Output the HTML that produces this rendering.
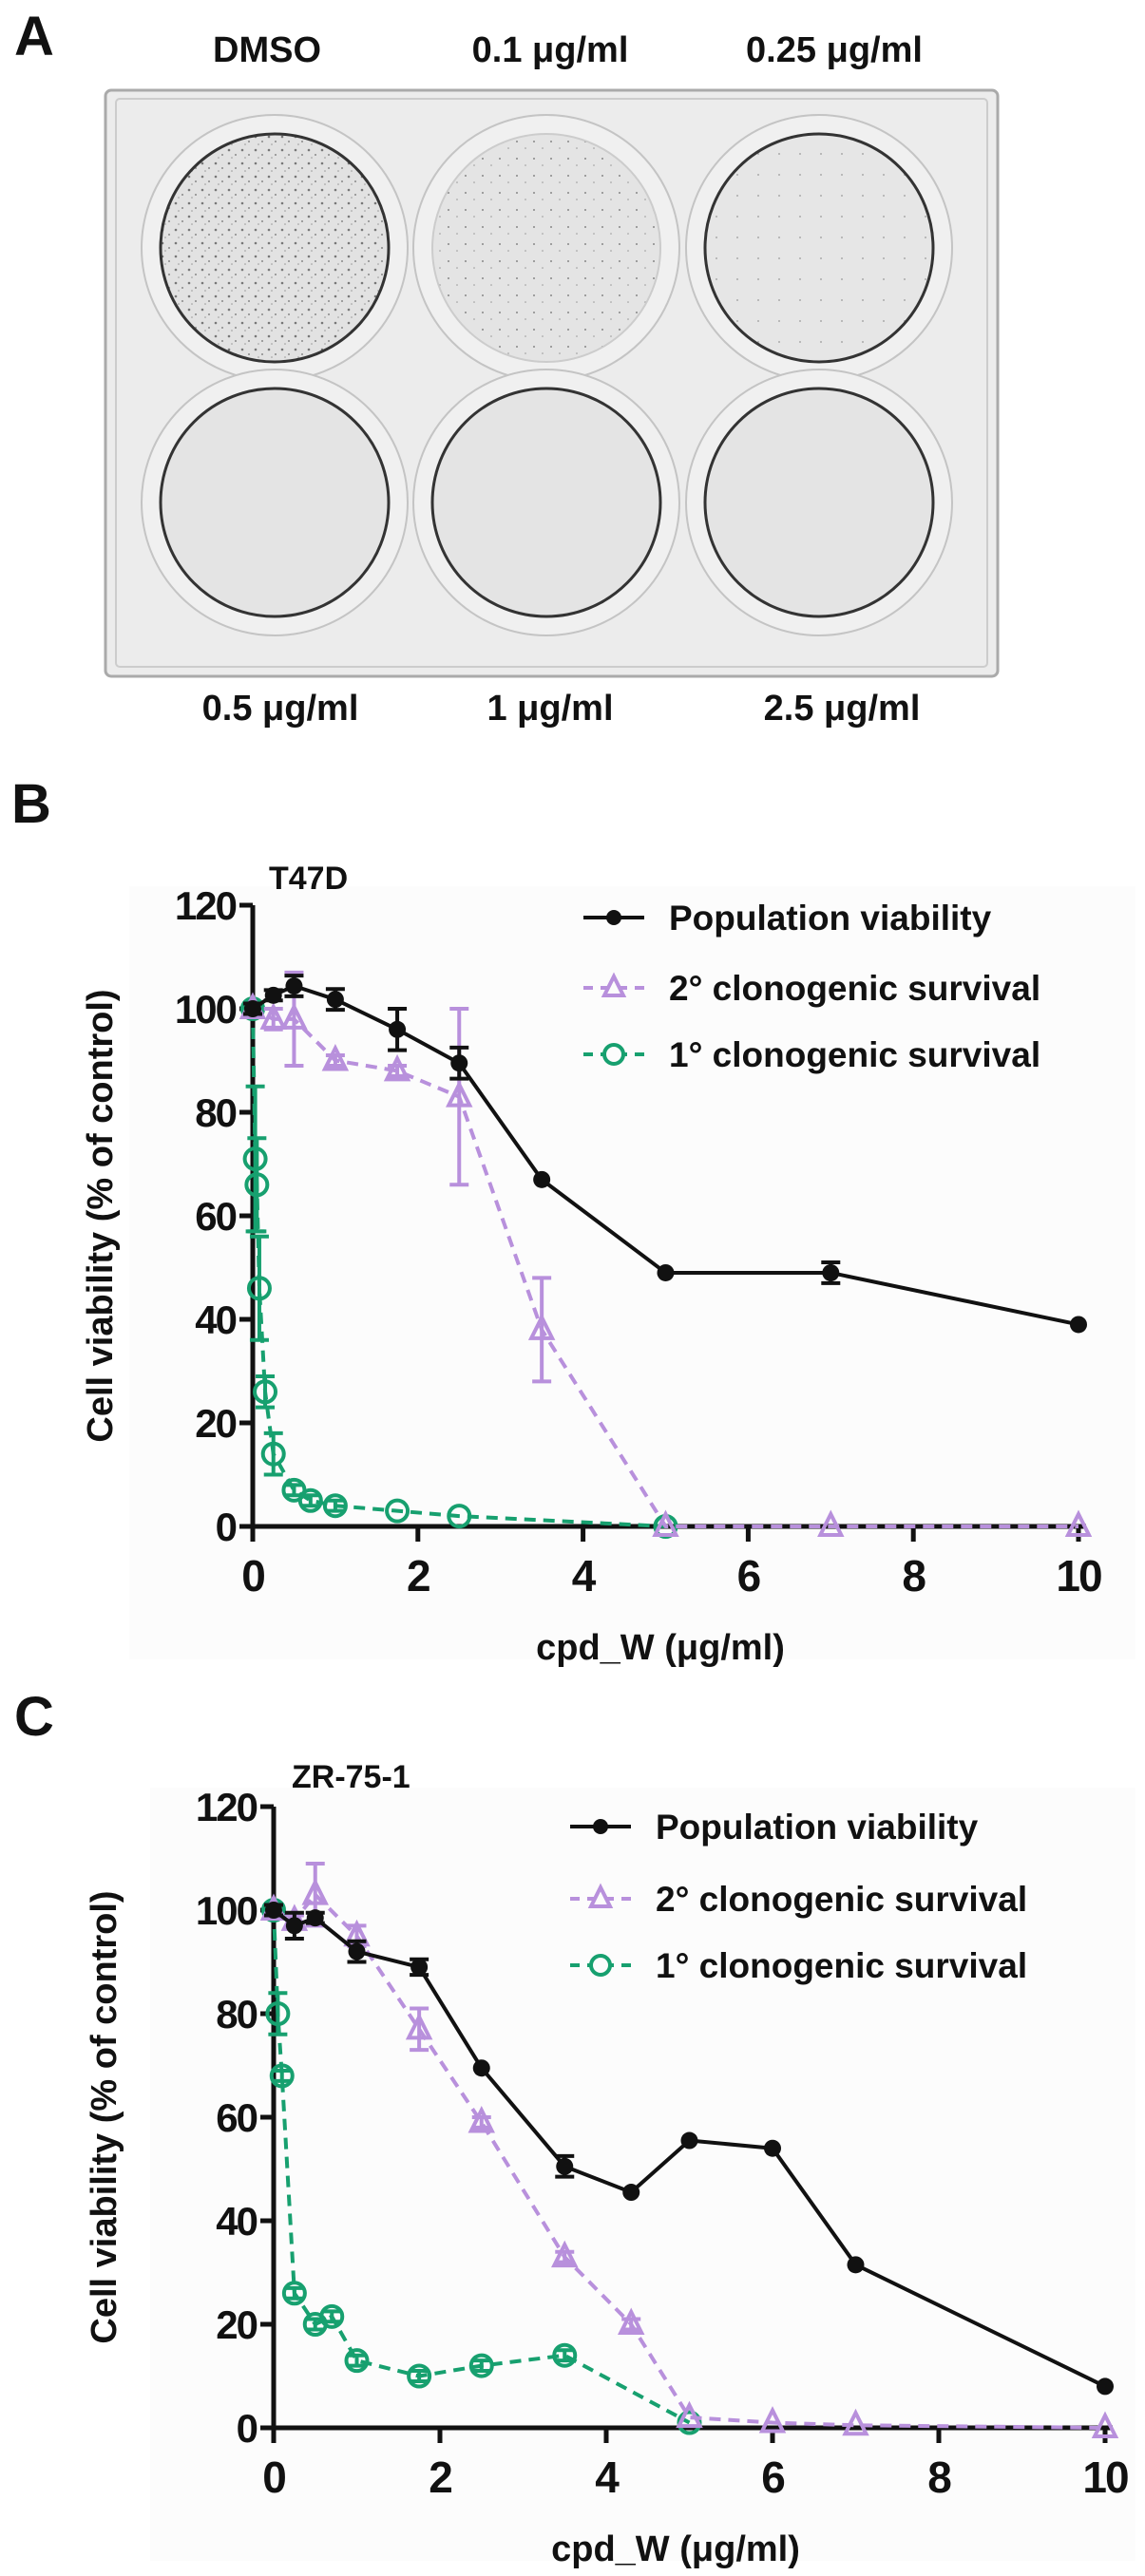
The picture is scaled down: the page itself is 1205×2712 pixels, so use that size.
<!DOCTYPE html>
<html><head><meta charset="utf-8"><style>
html,body{margin:0;padding:0;background:#fff}
svg{display:block}
text{font-family:"Liberation Sans",sans-serif;font-weight:bold;fill:#111}
</style></head><body>
<svg id="root" width="1205" height="2712" viewBox="0 0 1205 2712" xmlns="http://www.w3.org/2000/svg">
<defs>
<pattern id="dots1" width="14" height="14" patternUnits="userSpaceOnUse"><rect width="14" height="14" fill="#e2e2e2"/><circle cx="3" cy="4" r="1.3" fill="#777"/><circle cx="10" cy="9" r="1" fill="#888"/><circle cx="6" cy="12" r="0.8" fill="#999"/></pattern>
<pattern id="dots2" width="18" height="18" patternUnits="userSpaceOnUse"><rect width="18" height="18" fill="#e4e4e4"/><circle cx="4" cy="5" r="1" fill="#888"/><circle cx="13" cy="12" r="0.8" fill="#999"/></pattern>
<pattern id="dots3" width="22" height="22" patternUnits="userSpaceOnUse"><rect width="22" height="22" fill="#e6e6e6"/><circle cx="6" cy="8" r="0.9" fill="#999"/></pattern>
</defs>
<g>
<text x="15" y="58" font-size="58">A</text>
<text x="281" y="65" font-size="38" text-anchor="middle">DMSO</text>
<text x="579" y="65" font-size="38" text-anchor="middle">0.1 μg/ml</text>
<text x="878" y="65" font-size="38" text-anchor="middle">0.25 μg/ml</text>
<rect x="111" y="95" width="939" height="617" rx="6" fill="#ececec" stroke="#aaa" stroke-width="3"/>
<rect x="122" y="104" width="917" height="598" rx="4" fill="none" stroke="#ccc" stroke-width="2"/>
<g>
<circle cx="289" cy="261" r="140" fill="#f0f0f0" stroke="#c4c4c4" stroke-width="2"/><circle cx="289" cy="261" r="120" fill="url(#dots1)" stroke="#333" stroke-width="3"/>
<circle cx="575" cy="261" r="140" fill="#f0f0f0" stroke="#c4c4c4" stroke-width="2"/><circle cx="575" cy="261" r="120" fill="url(#dots2)" stroke="#ccc" stroke-width="2"/>
<circle cx="862" cy="261" r="140" fill="#f0f0f0" stroke="#c4c4c4" stroke-width="2"/><circle cx="862" cy="261" r="120" fill="url(#dots3)" stroke="#333" stroke-width="3"/>
<circle cx="289" cy="529" r="140" fill="#f0f0f0" stroke="#c4c4c4" stroke-width="2"/><circle cx="289" cy="529" r="120" fill="#e4e4e4" stroke="#333" stroke-width="3"/>
<circle cx="575" cy="529" r="140" fill="#f0f0f0" stroke="#c4c4c4" stroke-width="2"/><circle cx="575" cy="529" r="120" fill="#e4e4e4" stroke="#333" stroke-width="3"/>
<circle cx="862" cy="529" r="140" fill="#f0f0f0" stroke="#c4c4c4" stroke-width="2"/><circle cx="862" cy="529" r="120" fill="#e4e4e4" stroke="#333" stroke-width="3"/>
</g>
<text x="295" y="758" font-size="38" text-anchor="middle">0.5 μg/ml</text>
<text x="579" y="758" font-size="38" text-anchor="middle">1 μg/ml</text>
<text x="886" y="758" font-size="38" text-anchor="middle">2.5 μg/ml</text>
</g>
<text x="12" y="866" font-size="58">B</text>
<text x="15" y="1827" font-size="58">C</text>
</svg>
<script>
// ---- Panel B (T47D) data ----
const bPopX = [0, 0.25, 0.5, 1, 1.75, 2.5, 3.5, 5, 7, 10];
const bPopY = [100, 102.6, 104.4, 101.8, 96, 89.5, 67, 49, 49, 39];
const bPopErr = [1, 1, 2, 2, 4, 3, 0.5, 0.5, 2, 0.5];
const b2X = [0, 0.25, 0.5, 1, 1.75, 2.5, 3.5, 5, 7, 10];
const b2Y = [100, 98, 98, 90, 88, 83, 38, 0, 0, 0];
const b2Err = [1, 2, 9, 1, 1, 17, 10, 0, 0, 0];
const b1X = [0, 0.03, 0.05, 0.08, 0.15, 0.25, 0.5, 0.7, 1, 1.75, 2.5, 5];
const b1Y = [100, 71, 66, 46, 26, 14, 7, 5, 4, 3, 2, 0];
const b1Err = [0, 14, 9, 10, 3, 4, 1, 1, 1, 0.5, 0.5, 0];
// ---- Panel C (ZR-75-1) data ----
const cPopX = [0, 0.25, 0.5, 1, 1.75, 2.5, 3.5, 4.3, 5, 6, 7, 10];
const cPopY = [100, 97, 98.5, 92, 89, 69.5, 50.5, 45.5, 55.5, 54, 31.5, 8];
const cPopErr = [1, 2.5, 1, 2, 1.5, 0.5, 2, 0.5, 0.5, 0.5, 0.5, 0.5];
const c2X = [0, 0.25, 0.5, 1, 1.75, 2.5, 3.5, 4.3, 5, 6, 7, 10];
const c2Y = [100, 98, 103, 95, 77, 59, 33, 20, 2, 1, 0.5, 0];
const c2Err = [1, 1, 6, 2, 4, 1, 1, 1, 0, 0, 0, 0];
const c1X = [0, 0.05, 0.1, 0.25, 0.5, 0.7, 1, 1.75, 2.5, 3.5, 5];
const c1Y = [100, 80, 68, 26, 20, 21.5, 13, 10, 12, 14, 1];
const c1Err = [0, 4, 1, 1, 1, 1, 1, 1, 1, 1, 0];
const xTicks = [0, 2, 4, 6, 8, 10];
const yTicks = [0, 20, 40, 60, 80, 100, 120];
const legendLabels = ["Population viability", "2° clonogenic survival", "1° clonogenic survival"];

const NS = "http://www.w3.org/2000/svg";
const root = document.getElementById("root");
const GREEN = "#17a06f", PURPLE = "#b890dc";
function mk(tag, attrs, parent) {
  const e = document.createElementNS(NS, tag);
  for (const k in attrs) e.setAttribute(k, attrs[k]);
  parent.appendChild(e);
  return e;
}
function chart(cfg) {
  const g = mk("g", {}, root);
  
  
  const sx = v => cfg.x0 + (cfg.x10 - cfg.x0) * v / 10;
  const sy = v => cfg.y0 - (cfg.y0 - cfg.y120) * v / 120;
  mk("rect", {x: cfg.x0 - 130, y: cfg.y120 - 20, width: 1195 - (cfg.x0 - 130), height: cfg.y0 - cfg.y120 + 160, fill: "#fcfcfc"}, g);
  const ax = mk("g", {stroke: "#111", "stroke-width": 5, fill: "none"}, g);
  
  
  mk("line", {x1: cfg.x0, y1: sy(120), x2: cfg.x0, y2: cfg.y0 + 2}, ax);
  mk("line", {x1: cfg.x0 - 14, y1: cfg.y0, x2: cfg.x10 + 8, y2: cfg.y0}, ax);
  yTicks.forEach(t => {
    mk("line", {x1: cfg.x0 - 14, y1: sy(t), x2: cfg.x0, y2: sy(t)}, ax);
    const tx = mk("text", {x: cfg.x0 - 18, y: sy(t) + 15, "font-size": 42, "text-anchor": "end", "font-weight": "normal", "letter-spacing": "-2"}, g);
    tx.textContent = t;
    
    
  });
  xTicks.forEach(t => {
    mk("line", {x1: sx(t), y1: cfg.y0, x2: sx(t), y2: cfg.y0 + 16}, ax);
    const tx = mk("text", {x: sx(t), y: cfg.y0 + 68, "font-size": 46, "text-anchor": "middle", "font-weight": "normal", "letter-spacing": "-2"}, g);
    tx.textContent = t;
    
    
  });
  const xt = mk("text", {x: cfg.xLabelX, y: cfg.y0 + 140, "font-size": 38, "text-anchor": "middle"}, g);
  xt.textContent = "cpd_W (μg/ml)";
  
  
  const ym = (cfg.y0 + cfg.y120) / 2;
  const yt = mk("text", {x: cfg.yTitleX, y: ym, "font-size": 38, "text-anchor": "middle", transform: `rotate(-90 ${cfg.yTitleX} ${ym})`}, g);
  yt.textContent = "Cell viability (% of control)";
  
  
  const tt = mk("text", {x: cfg.titleX, y: cfg.titleY, "font-size": 34}, g);
  tt.textContent = cfg.title;
  
  

  function series(X, Y, E, color, dash, marker, nm) {
    const sg = mk("g", {}, g);
    
    
    const pts = X.map((x, i) => sx(x) + "," + sy(Y[i])).join(" ");
    const pl = mk("polyline", {points: pts, fill: "none", stroke: color, "stroke-width": 4, "stroke-dasharray": dash || "none", "stroke-linejoin": "round"}, sg);
    
    
    X.forEach((x, i) => {
      const px = sx(x), py = sy(Y[i]);
      if (E[i] > 0.6) {
        const t = sy(Y[i] + E[i]), b = sy(Y[i] - E[i]);
        const eb = mk("path", {d: `M${px},${t}V${b}M${px-10},${t}H${px+10}M${px-10},${b}H${px+10}`, stroke: color, "stroke-width": 4, fill: "none"}, sg);
        
        
      }
      let m;
      if (marker === "dot") m = mk("circle", {cx: px, cy: py, r: 9, fill: color}, sg);
      else if (marker === "circle") m = mk("circle", {cx: px, cy: py, r: 11, fill: "none", stroke: color, "stroke-width": 4}, sg);
      else m = mk("path", {d: `M${px},${py-13}L${px+11},${py+9}L${px-11},${py+9}Z`, fill: "none", stroke: color, "stroke-width": 4}, sg);
      
      
    });
  }
  series(cfg.d1[0], cfg.d1[1], cfg.d1[2], GREEN, "12 8", "circle", "primary-clonogenic-series");
  series(cfg.d2[0], cfg.d2[1], cfg.d2[2], PURPLE, "12 8", "tri", "secondary-clonogenic-series");
  series(cfg.dp[0], cfg.dp[1], cfg.dp[2], "#111", null, "dot", "population-viability-series");

  const lg = mk("g", {}, g);
  
  
  const styles = [["#111", null, "dot"], [PURPLE, "10 8", "tri"], [GREEN, "10 8", "circle"]];
  legendLabels.forEach((lab, i) => {
    const y = cfg.legY[i];
    const eg = mk("g", {}, lg);
    
    
    const [c, d, mkr] = styles[i];
    mk("line", {x1: cfg.legX, y1: y, x2: cfg.legX + 64, y2: y, stroke: c, "stroke-width": 4, "stroke-dasharray": d || "none"}, eg);
    const cx = cfg.legX + 32;
    if (mkr === "dot") mk("circle", {cx: cx, cy: y, r: 8, fill: c}, eg);
    else if (mkr === "circle") mk("circle", {cx: cx, cy: y, r: 10, fill: "#fcfcfc", stroke: c, "stroke-width": 4}, eg);
    else mk("path", {d: `M${cx},${y-12}L${cx+10},${y+8}L${cx-10},${y+8}Z`, fill: "#fcfcfc", stroke: c, "stroke-width": 4}, eg);
    const t = mk("text", {x: cfg.legX + 90, y: y + 13, "font-size": 37}, eg);
    t.textContent = lab;
  });
}
chart({name: "chart-t47d", x0: 266, x10: 1135, y0: 1607, y120: 953, yTitleX: 118, xLabelX: 695,
  title: "T47D", titleX: 283, titleY: 936, legX: 614, legY: [966, 1040, 1110],
  dp: [bPopX, bPopY, bPopErr], d2: [b2X, b2Y, b2Err], d1: [b1X, b1Y, b1Err]});
chart({name: "chart-zr75", x0: 288, x10: 1163, y0: 2556, y120: 1902, yTitleX: 122, xLabelX: 711,
  title: "ZR-75-1", titleX: 307, titleY: 1882, legX: 600, legY: [1923, 1999, 2069],
  dp: [cPopX, cPopY, cPopErr], d2: [c2X, c2Y, c2Err], d1: [c1X, c1Y, c1Err]});
</script>
</body></html>
